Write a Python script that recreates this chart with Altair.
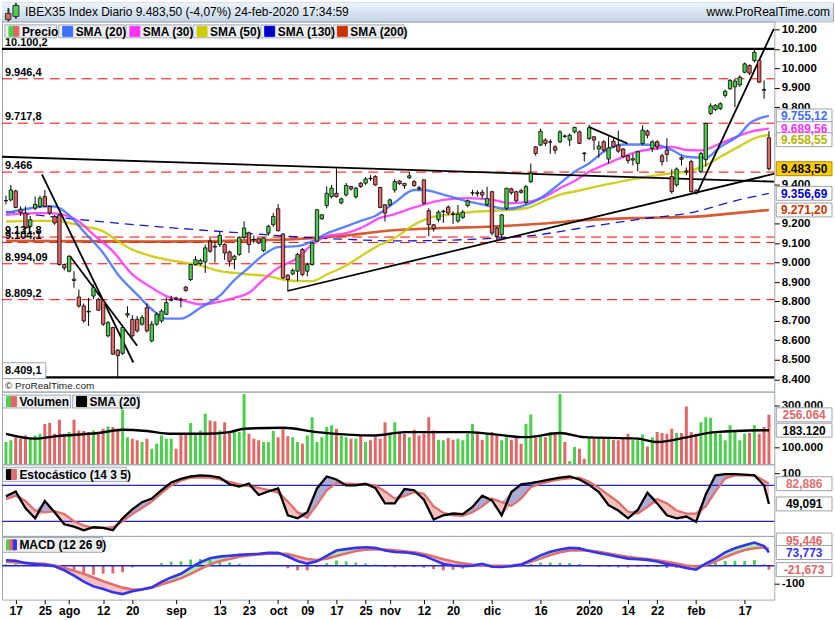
import json
import altair as alt
import pandas as pd

FONT = "Liberation Sans"
GREEN = "#4ccf4c"
RED = "#e26666"
SALMON = "#e07070"

# ---------------- data ----------------
OPEN = [9318, 9323, 9369, 9275, 9255, 9187, 9280, 9290, 9340, 9289,
        9238, 9246, 8990, 8956, 8915, 8823, 8777, 8750, 8828, 8811,
        8803, 8623, 8666, 8550, 8533, 8730, 8708, 8708, 8683, 8768,
        8597, 8683, 8700, 8734, 8806, 8818, 8812, 8874, 8913, 8990,
        8995, 9004, 9110, 9085, 9093, 9093, 9055, 9016, 9042, 9130,
        9153, 9120, 9123, 9062, 9152, 9195, 9277, 9147, 8936, 8942,
        8956, 9067, 8956, 8990, 9110, 9226, 9294, 9340, 9357, 9308,
        9349, 9392, 9339, 9409, 9409, 9434, 9443, 9387, 9298, 9298,
        9374, 9420, 9408, 9437, 9417, 9385, 9426, 9267, 9195, 9221,
        9262, 9286, 9252, 9215, 9233, 9294, 9358, 9360, 9362, 9300,
        9365, 9178, 9144, 9280, 9380, 9365, 9370, 9310, 9417, 9596,
        9605, 9631, 9620, 9596, 9622, 9652, 9631, 9673, 9673, 9564,
        9639, 9648, 9585, 9622, 9533, 9625, 9605, 9585, 9550, 9528,
        9511, 9613, 9677, 9588, 9622, 9550, 9579, 9443, 9400, 9540,
        9472, 9520, 9370, 9468, 9530, 9768, 9788, 9793, 9861, 9895,
        9905, 9915, 9980, 10015, 10040, 10040, 9892, 9643]
HIGH = [9345, 9400, 9375, 9290, 9290, 9240, 9340, 9345, 9374, 9295,
        9245, 9250, 8995, 9038, 8956, 8862, 8790, 8819, 8888, 8819,
        8811, 8700, 8670, 8555, 8670, 8775, 8730, 8725, 8730, 8790,
        8700, 8745, 8760, 8820, 8830, 8825, 8820, 8880, 8995, 9033,
        9020, 9093, 9127, 9110, 9160, 9100, 9062, 9040, 9135, 9212,
        9160, 9140, 9125, 9130, 9195, 9255, 9301, 9152, 8940, 8970,
        9050, 9075, 9000, 9105, 9275, 9250, 9392, 9400, 9485, 9335,
        9410, 9395, 9390, 9415, 9440, 9450, 9450, 9390, 9300, 9330,
        9430, 9425, 9410, 9465, 9425, 9395, 9430, 9280, 9200, 9270,
        9272, 9295, 9265, 9297, 9270, 9325, 9375, 9372, 9375, 9390,
        9370, 9185, 9250, 9385, 9385, 9370, 9380, 9400, 9510, 9600,
        9690, 9640, 9635, 9605, 9682, 9660, 9665, 9700, 9680, 9570,
        9710, 9650, 9625, 9630, 9650, 9640, 9680, 9590, 9555, 9560,
        9575, 9707, 9685, 9630, 9630, 9560, 9640, 9480, 9490, 9550,
        9490, 9530, 9380, 9570, 9720, 9820, 9815, 9825, 9890, 9945,
        9945, 9965, 10030, 10020, 10100, 10045, 9938, 9677]
LOW = [9300, 9315, 9280, 9240, 9170, 9180, 9270, 9280, 9285, 9245,
       9195, 8985, 8960, 8950, 8871, 8768, 8690, 8674, 8811, 8751,
       8675, 8615, 8525, 8410, 8525, 8717, 8615, 8640, 8675, 8640,
       8590, 8675, 8690, 8730, 8800, 8805, 8770, 8850, 8905, 8985,
       8985, 8947, 9050, 9000, 9080, 9015, 8980, 8965, 9035, 9120,
       9050, 9100, 9095, 9055, 9140, 9185, 9160, 8915, 8857, 8935,
       8905, 8930, 8930, 8985, 9105, 9220, 9280, 9330, 9335, 9300,
       9340, 9370, 9330, 9385, 9400, 9420, 9395, 9280, 9212, 9290,
       9360, 9400, 9380, 9430, 9390, 9370, 9300, 9135, 9160, 9210,
       9205, 9245, 9200, 9205, 9225, 9285, 9345, 9340, 9330, 9290,
       9140, 9110, 9130, 9270, 9350, 9310, 9355, 9300, 9410, 9550,
       9600, 9600, 9560, 9560, 9615, 9640, 9600, 9665, 9610, 9520,
       9630, 9580, 9540, 9570, 9510, 9590, 9565, 9540, 9510, 9500,
       9470, 9605, 9640, 9570, 9580, 9500, 9520, 9355, 9390, 9500,
       9450, 9360, 9350, 9460, 9495, 9760, 9780, 9785, 9850, 9890,
       9800, 9905, 9975, 9965, 10030, 9925, 9844, 9475]
CLOSE = [9320, 9374, 9284, 9258, 9178, 9221, 9300, 9332, 9289, 9255,
         9204, 8990, 8973, 9033, 8908, 8777, 8700, 8746, 8871, 8755,
         8683, 8691, 8529, 8521, 8666, 8738, 8623, 8649, 8717, 8649,
         8683, 8734, 8751, 8794, 8811, 8812, 8808, 8857, 8990, 9015,
         9011, 9076, 9059, 9080, 9140, 9050, 9007, 9033, 9130, 9178,
         9093, 9118, 9101, 9127, 9187, 9238, 9164, 8922, 8913, 8960,
         9042, 8939, 8990, 9101, 9272, 9246, 9357, 9383, 9340, 9328,
         9397, 9380, 9383, 9392, 9431, 9432, 9400, 9284, 9255, 9323,
         9417, 9407, 9396, 9447, 9397, 9382, 9306, 9195, 9175, 9260,
         9265, 9255, 9248, 9250, 9260, 9318, 9360, 9355, 9348, 9330,
         9152, 9135, 9246, 9383, 9360, 9318, 9362, 9391, 9460, 9562,
         9677, 9614, 9622, 9579, 9673, 9650, 9656, 9696, 9614, 9560,
         9694, 9631, 9600, 9579, 9591, 9596, 9574, 9545, 9525, 9535,
         9571, 9682, 9656, 9622, 9596, 9520, 9557, 9366, 9482, 9532,
         9466, 9366, 9362, 9562, 9716, 9807, 9810, 9818, 9882, 9938,
         9935, 9955, 10023, 9975, 10083, 9929, 9887, 9483.5]
VOLUME_K = [127, 135, 150, 143, 158, 143, 158, 166, 213, 218,
            166, 233, 166, 174, 233, 182, 179, 174, 182, 174,
            190, 201, 198, 190, 280, 150, 143, 135, 127, 143,
            95, 119, 158, 143, 143, 95, 162, 170, 217, 166,
            182, 261, 229, 226, 182, 221, 174, 185, 174, 355,
            166, 143, 135, 127, 127, 179, 150, 198, 154, 150,
            127, 119, 158, 245, 127, 150, 198, 206, 190, 158,
            150, 143, 143, 158, 127, 135, 150, 143, 221, 162,
            221, 174, 166, 150, 185, 158, 166, 245, 182, 138,
            135, 146, 138, 143, 135, 166, 213, 177, 138, 166,
            174, 158, 135, 150, 138, 150, 119, 213, 258, 150,
            158, 150, 174, 166, 355, 127, 37, 103, 95, 48,
            150, 143, 150, 143, 150, 138, 135, 146, 166, 138,
            135, 163, 106, 150, 174, 170, 166, 190, 170, 170,
            296, 174, 166, 221, 245, 242, 174, 166, 135, 206,
            174, 135, 166, 170, 206, 166, 198, 256.064]
DAYS = list(range(len(CLOSE)))

TICK_DAYS = [2, 8, 13, 20, 26, 35, 44, 50, 56, 62, 68, 74, 79, 86, 92, 100, 110, 120, 128, 134, 142, 152]
TICK_LABELS = ["17", "25", "ago", "12", "20", "sep", "13", "23", "oct", "09", "17", "25",
               "nov", "12", "20", "dic", "16", "2020", "14", "22", "feb", "17"]

SMA20_DAYS = [0, 4, 8, 10, 13, 16, 20, 23, 27, 30, 33, 36, 40, 44, 47, 50, 53, 56, 60, 63,
              66, 70, 73, 76, 80, 84, 86, 90, 95, 98, 100, 103, 106, 110, 114, 117, 120, 123, 127, 130,
              134, 137, 140, 144, 147, 151, 153, 157]
SMA20_VALUES = [9255, 9275, 9290, 9289, 9245, 9160, 9050, 8940, 8835, 8760, 8712, 8712, 8768, 8830, 8910,
                8975, 9040, 9080, 9085, 9110, 9150, 9187, 9215, 9240, 9310, 9374, 9374, 9350, 9315, 9300,
                9289, 9277, 9289, 9332, 9408, 9468, 9511, 9571, 9608, 9608, 9605, 9580, 9545, 9540, 9596,
                9660, 9716, 9755.12]
SMA30_DAYS = [0, 6, 9, 13, 15, 18, 22, 26, 30, 33, 37, 40, 43, 47, 50, 53, 56, 60, 63, 66,
              70, 73, 77, 80, 84, 90, 95, 100, 104, 108, 111, 114, 117, 120, 123, 127, 130, 134, 137, 140,
              143, 147, 150, 153, 157]
SMA30_VALUES = [9246, 9255, 9255, 9238, 9212, 9144, 9058, 8939, 8871, 8828, 8802, 8785, 8794, 8819, 8845,
                8913, 8973, 9024, 9093, 9135, 9152, 9178, 9230, 9250, 9284, 9323, 9332, 9323, 9306, 9315,
                9340, 9383, 9420, 9468, 9502, 9545, 9571, 9588, 9596, 9580, 9578, 9613, 9645, 9672, 9689.56]
SMA50_DAYS = [0, 6, 10, 13, 16, 20, 23, 26, 30, 33, 37, 40, 44, 47, 50, 54, 57, 60, 63, 66,
              70, 73, 77, 80, 84, 87, 91, 97, 104, 107, 111, 114, 117, 123, 130, 137, 140, 144, 147, 151,
              154, 157]
SMA50_VALUES = [9212, 9215, 9215, 9204, 9187, 9161, 9110, 9067, 9033, 9016, 8999, 8985, 8956, 8947, 8939,
                8930, 8913, 8905, 8905, 8939, 8985, 9033, 9093, 9127, 9195, 9229, 9246, 9263, 9272, 9280,
                9320, 9350, 9366, 9400, 9434, 9460, 9468, 9502, 9545, 9600, 9640, 9658.55]
SMA130_DAYS = [0, 10, 20, 30, 40, 50, 60, 70, 80, 90, 100, 110, 114, 120, 130, 142, 150, 157]
SMA130_VALUES = [9263, 9235, 9210, 9188, 9168, 9150, 9132, 9120, 9112, 9115, 9125, 9145, 9160, 9185,
                 9222, 9263, 9318, 9356.69]
SMA200_DAYS = [0, 30, 56, 70, 79, 90, 100, 110, 120, 130, 142, 150, 157]
SMA200_VALUES = [9112, 9108, 9118, 9140, 9165, 9178, 9186, 9200, 9220, 9230, 9237, 9255, 9271.20]

VOLSMA_DAYS = [0, 6, 10, 19, 24, 29, 34, 41, 46, 49, 57, 64, 76, 82, 95, 107, 114, 119, 130, 134, 141, 146, 157]
VOLSMA_VALUES = [166, 143, 154, 170, 185, 179, 166, 166, 174, 190, 195, 174, 158, 174, 174, 150, 170, 150,
                 143, 127, 154, 174, 183.12]

OSC_DAYS = list(range(0, 157, 2)) + [157]
STOCH_K = [62, 70, 42, 25, 54, 35, 15, 11, 5, 10, 9, 5, 25, 40, 52, 58, 72, 85, 91, 95,
           97, 96, 93, 82, 78, 83, 64, 70, 75, 30, 25, 35, 75, 95, 90, 80, 80, 83, 76, 50,
           50, 74, 72, 56, 23, 30, 33, 32, 44, 63, 55, 30, 69, 82, 84, 87, 90, 93, 95, 90,
           81, 69, 47, 38, 25, 39, 68, 50, 30, 25, 28, 19, 65, 97, 99, 99, 98, 97, 80, 49.091]
STOCH_D = [57, 63, 54, 38, 35, 37, 32, 20, 13, 9, 9, 10, 20, 32, 42, 53, 67, 80, 88, 93,
           93, 93, 90, 86, 82, 79, 76, 72, 68, 53, 35, 26, 48, 72, 84, 83, 82, 82, 80, 70,
           58, 62, 69, 66, 45, 34, 30, 29, 35, 45, 58, 52, 46, 58, 77, 83, 87, 90, 92, 93,
           86, 76, 64, 52, 36, 33, 44, 57, 50, 38, 33, 33, 45, 70, 92, 97, 97, 97, 88, 82.886]
MACD_LINE = [31, 28, 16, 10, 5, -3, -25, -55, -88, -115, -130, -148, -158, -142, -132, -120, -90, -65, -45, -10,
             20, 42, 51, 56, 61, 64, 67, 72, 72, 52, 27, 12, 25, 55, 85, 93, 100, 103, 100, 85,
             77, 75, 68, 55, 33, 10, 2, -2, 0, 11, -5, -7, -2, 6, 32, 58, 78, 91, 100, 97,
             83, 71, 62, 50, 40, 36, 33, 24, 10, 0, -12, -22, 12, 40, 75, 98, 115, 130, 110, 73.773]
MACD_SIGNAL = [23, 18, 15, 13, 11, 2, -11, -28, -45, -65, -86, -105, -122, -133, -131, -122, -104, -88, -70, -45,
               -18, 8, 26, 38, 50, 58, 63, 67, 68, 66, 52, 38, 32, 40, 55, 68, 82, 90, 93, 91,
               86, 81, 75, 66, 52, 36, 24, 14, 7, 3, 0, 0, 0, 8, 23, 40, 60, 75, 85, 87,
               85, 78, 68, 59, 50, 43, 38, 31, 22, 12, 2, -4, 5, 23, 48, 70, 88, 98, 102, 95.446]

RED_LEVELS = [9946.4, 9717.8, 9466, 9131.8, 9104.1, 8994.09, 8809.2]
BLACK_LEVELS = [10100.2, 8409.1]
LEVEL_VALUES = [10100.2, 9946.4, 9717.8, 9466, 9131.8, 9104.1, 8994.09, 8809.2, 8409.1]
LEVEL_TEXTS = ["10.100,2", "9.946,4", "9.717,8", "9.466", "9.131,8", "9.104,1", "8.994,09", "8.809,2", "8.409,1"]

TREND_ID = ["a", "a", "b", "b", "c", "c", "d", "d", "e", "e", "f", "f"]
TREND_DAY = [-0.8, 158.1, 7.4, 26.2, 13.2, 27.0, 57.9, 158.5, 119.9, 127.9, 142.2, 158.0]
TREND_PRICE = [9545, 9417, 9454, 8486, 9033, 8572, 8854, 9460, 9699, 9613, 9357, 10203]

PRICE_TICKS = [8400, 8500, 8600, 8700, 8800, 8900, 9000, 9100, 9200, 9400, 9800, 9900, 10000, 10100, 10200]

# ---------------- layout ----------------
W = 776
H_HEAD, H_PRICE, H_VOL, H_STO, H_MACD = 19, 372, 73, 72, 64
XSC = alt.Scale(domain=[-0.8192, 158.1], nice=False, zero=False, padding=0)
PSC = alt.Scale(domain=[8336.1, 10241.9], nice=False, zero=False)
VSC = alt.Scale(domain=[21.3, 366.4], nice=False, zero=False)
SSC = alt.Scale(domain=[-4.5, 115.5], nice=False, zero=False)
MSC = alt.Scale(domain=[-188.9, 166.7], nice=False, zero=False)


def es(v, d):
    s = f"{v:,.{d}f}"
    return s.replace(",", "X").replace(".", ",").replace("X", ".")


def right_axis(values, expr):
    return alt.Axis(orient="right", values=values, title=None, grid=False, domain=False,
                    ticks=True, tickSize=5, tickColor="#000", labelFont=FONT, labelFontSize=11.5,
                    labelFontWeight="bold", labelColor="#000", labelPadding=2, labelOverlap=False,
                    labelExpr=expr)


THOUS = "replace(format(datum.value, ','), ',', '.')"
P_AX = right_axis(PRICE_TICKS, THOUS)
V_AX = right_axis([100, 300], "replace(format(datum.value * 1000, ','), ',', '.')")
S_AX = right_axis([100], "format(datum.value, 'd')")
M_AX = right_axis([-100], "(datum.value < 0 ? '-' : '') + format(abs(datum.value), 'd')")

X_NONE = alt.X("day:Q", scale=XSC, axis=None)
X_BOTTOM = alt.X("day:Q", scale=XSC, axis=alt.Axis(
    values=TICK_DAYS, title=None, grid=False, domain=False, tickSize=4, tickColor="#000",
    labelFont=FONT, labelFontSize=12, labelFontWeight="bold", labelColor="#000", labelPadding=2,
    labelOverlap=False, labelFlush=False,
    labelExpr=f"{json.dumps(TICK_LABELS)}[indexof({json.dumps(TICK_DAYS)}, datum.value)]"))


def Y(field, sc, ax):
    return alt.Y(field, scale=sc, axis=ax)


def px_rects(rows):
    return alt.Chart(pd.DataFrame(rows)).mark_rect(strokeWidth=1).encode(
        x=alt.X("x0:Q", scale=None, axis=None), x2="x1:Q",
        y=alt.Y("y0:Q", scale=None, axis=None), y2="y1:Q",
        fill=alt.Fill("fill:N", scale=None, legend=None),
        stroke=alt.Stroke("stroke:N", scale=None, legend=None))


def px_texts(rows, **kw):
    return alt.Chart(pd.DataFrame(rows)).mark_text(font=FONT, **kw).encode(
        x=alt.X("x:Q", scale=None, axis=None), y=alt.Y("y:Q", scale=None, axis=None),
        text="t:N", color=alt.Color("col:N", scale=None, legend=None))


def legend(items, y0, y1):
    rects, texts = [], []
    yc = (y0 + y1) / 2
    for x0, x1, label, cols in items:
        rects.append(dict(x0=x0, x1=x1, y0=y0, y1=y1, fill="#eceef1", stroke="#a3abb4"))
        n = len(cols)
        for i, c in enumerate(cols):
            rects.append(dict(x0=x0 + 4 + i * 10 / n, x1=x0 + 4 + (i + 1) * 10 / n,
                              y0=yc - 5, y1=yc + 5, fill=c, stroke=c))
        texts.append(dict(x=x0 + 17, y=yc + 0.5, t=label, col="#000"))
    return [px_rects(rects), px_texts(texts, align="left", baseline="middle", fontSize=12, fontWeight="bold")]


BOX_SHAPE = "M-1,-0.25H1V0.25H-1Z"


def value_boxes(vals, texts, tcols, fills, strokes, sc, ax):
    df = pd.DataFrame({"v": vals, "t": texts, "tc": tcols, "f": fills, "s": strokes})
    box = alt.Chart(df).mark_point(shape=BOX_SHAPE, size=56 * 56, filled=True, opacity=1,
                                   strokeWidth=1).encode(
        x=alt.value(806), y=Y("v:Q", sc, ax),
        fill=alt.Fill("f:N", scale=None, legend=None),
        stroke=alt.Stroke("s:N", scale=None, legend=None))
    txt = alt.Chart(df).mark_text(font=FONT, fontSize=12, fontWeight="bold", align="center",
                                  baseline="middle", dy=0.5).encode(
        x=alt.value(806), y=Y("v:Q", sc, ax), text="t:N",
        color=alt.Color("tc:N", scale=None, legend=None))
    return [box, txt]


def sma_line(days, vals, color, width, dash=None, opacity=0.9):
    kw = dict(color=color, strokeWidth=width, interpolate="monotone", clip=True, opacity=opacity)
    if dash:
        kw["strokeDash"] = dash
    return alt.Chart(pd.DataFrame({"day": days, "v": vals})).mark_line(**kw).encode(
        x=X_NONE, y=Y("v:Q", PSC, P_AX))


# ---------------- header ----------------
one = pd.DataFrame({"a": [0]})
grad = alt.Gradient(gradient="linear", x1=0, x2=0, y1=0, y2=1,
                    stops=[alt.GradientStop(color="#eef4fa", offset=0),
                           alt.GradientStop(color="#c4d5e6", offset=1)])
header = alt.layer(
    alt.Chart(one).mark_rect(fill=grad).encode(x=alt.value(0), x2=alt.value(835),
                                               y=alt.value(0), y2=alt.value(H_HEAD)),
    px_rects([dict(x0=6, x1=7, y0=6, y1=19, fill="#333", stroke="#333"),
              dict(x0=3.5, x1=9, y0=11, y1=17, fill=RED, stroke="#333"),
              dict(x0=13.5, x1=14.5, y0=1, y1=16, fill="#333", stroke="#333"),
              dict(x0=11, x1=17, y0=3, y1=14, fill=GREEN, stroke="#333")]),
    px_texts([dict(x=23, y=10, t="IBEX35 Index Diario " + es(CLOSE[-1], 2) + " (-4,07%) 24-feb-2020 17:34:59",
                   col="#000")], align="left", baseline="middle", fontSize=12),
    px_texts([dict(x=832, y=10, t="www.ProRealTime.com", col="#000")], align="right",
             baseline="middle", fontSize=12),
).properties(width=835, height=H_HEAD)

# ---------------- price panel ----------------
cdf = pd.DataFrame({"day": DAYS, "o": OPEN, "h": HIGH, "l": LOW, "c": CLOSE, "vol": VOLUME_K})
up = "datum.c >= datum.o"

red_lines = alt.Chart(pd.DataFrame({"p": RED_LEVELS})).mark_rule(
    color="#ff0000", strokeWidth=1, strokeDash=[10, 6]).encode(
    y=Y("p:Q", PSC, P_AX), x=alt.value(0), x2=alt.value(W))
black_lines = alt.Chart(pd.DataFrame({"p": BLACK_LEVELS})).mark_rule(
    color="#000", strokeWidth=2.2).encode(y=Y("p:Q", PSC, P_AX), x=alt.value(0), x2=alt.value(W))

trend = alt.Chart(pd.DataFrame({"id": TREND_ID, "day": TREND_DAY, "p": TREND_PRICE})).mark_line(
    color="#000", strokeWidth=1.8, clip=True).encode(x=X_NONE, y=Y("p:Q", PSC, P_AX), detail="id:N")

wick = alt.Chart(cdf).mark_rule(color="#000", strokeWidth=1).encode(
    x=X_NONE, y=Y("l:Q", PSC, P_AX), y2="h:Q")
body = alt.Chart(cdf).mark_bar(size=3.4, stroke="#000", strokeWidth=0.8).encode(
    x=X_NONE, y=Y("o:Q", PSC, P_AX), y2="c:Q",
    fill=alt.condition(up, alt.value(GREEN), alt.value(RED)))

lvl_box = px_rects([dict(x0=0.5, x1=44, y0=343, y1=359, fill="#ffffff", stroke="#9aa2aa")])
lvl_txt = alt.Chart(pd.DataFrame({"p": LEVEL_VALUES, "t": LEVEL_TEXTS})).mark_text(
    font=FONT, fontSize=11, fontWeight="bold", align="left", baseline="alphabetic", dy=-3,
    color="#000").encode(x=alt.value(3), y=Y("p:Q", PSC, P_AX), text="t:N")

price_boxes = value_boxes(
    [SMA20_VALUES[-1], SMA30_VALUES[-1], SMA50_VALUES[-1] - 5 * 5.123, CLOSE[-1],
     SMA130_VALUES[-1], SMA200_VALUES[-1]],
    [es(SMA20_VALUES[-1], 2), es(SMA30_VALUES[-1], 2), es(SMA50_VALUES[-1], 2), es(CLOSE[-1], 2),
     es(SMA130_VALUES[-1], 2), es(SMA200_VALUES[-1], 2)],
    ["#3f6fff", "#ff33ff", "#b5b500", "#000000", "#0000cc", "#cc3300"],
    ["#ffffff", "#ffffff", "#ffffff", "#ffcc00", "#ffffff", "#ffffff"],
    ["#9aa2aa", "#9aa2aa", "#9aa2aa", "#b08a00", "#9aa2aa", "#9aa2aa"], PSC, P_AX)

price_legend = legend([(3, 55, "Precio", [GREEN, RED]), (57, 123, "SMA (20)", ["#3f6fff"]),
                       (124.5, 190, "SMA (30)", ["#ff33ff"]), (192, 258, "SMA (50)", ["#cccc00"]),
                       (260, 331, "SMA (130)", ["#0000cc"]), (333, 404, "SMA (200)", ["#cc3300"])],
                      3.5, 16.5)
copy_txt = px_texts([dict(x=3, y=366, t="© ProRealTime.com", col="#222")], align="left",
                    baseline="middle", fontSize=10)

price = alt.layer(
    red_lines, black_lines,
    sma_line(SMA200_DAYS, SMA200_VALUES, "#cc3300", 2.6, opacity=0.8),
    sma_line(SMA130_DAYS, SMA130_VALUES, "#0000cc", 1.3, dash=[9, 6]),
    sma_line(SMA50_DAYS, SMA50_VALUES, "#c8c800", 2.4, opacity=0.85),
    sma_line(SMA30_DAYS, SMA30_VALUES, "#ff33ff", 2.4, opacity=0.85),
    sma_line(SMA20_DAYS, SMA20_VALUES, "#3f6fff", 2.4, opacity=0.85),
    trend, wick, body, lvl_box, lvl_txt, *price_boxes, *price_legend, copy_txt,
).properties(width=W, height=H_PRICE)

# ---------------- volume panel ----------------
vol_bars = alt.Chart(cdf).mark_bar(size=3, clip=True).encode(
    x=X_NONE, y=Y("vol:Q", VSC, V_AX), y2=alt.datum(0),
    color=alt.condition(up, alt.value(GREEN), alt.value(RED)))
vol_sma = alt.Chart(pd.DataFrame({"day": VOLSMA_DAYS, "v": VOLSMA_VALUES})).mark_line(
    color="#000", strokeWidth=2.4, interpolate="monotone", clip=True).encode(
    x=X_NONE, y=Y("v:Q", VSC, V_AX))
vol_boxes = value_boxes([VOLUME_K[-1], VOLSMA_VALUES[-1]],
                        [es(VOLUME_K[-1] * 1000, 0), es(VOLSMA_VALUES[-1] * 1000, 0)],
                        [RED, "#000"], ["#ffffff", "#ffffff"], ["#9aa2aa", "#9aa2aa"], VSC, V_AX)
vol_legend = legend([(0.5, 69, "Volumen", [GREEN, RED]), (71, 138, "SMA (20)", ["#000"])], 3.5, 16.5)
volume = alt.layer(vol_bars, vol_sma, *vol_boxes, *vol_legend).properties(width=W, height=H_VOL)

# ---------------- stochastic panel ----------------
sdf = pd.DataFrame({"day": OSC_DAYS, "k": STOCH_K, "d": STOCH_D})
sto_up = alt.Chart(sdf).transform_calculate(top="max(datum.k, datum.d)").mark_area(
    color="#9c9ccf", opacity=0.85).encode(x=X_NONE, y=Y("top:Q", SSC, S_AX), y2="d:Q")
sto_dn = alt.Chart(sdf).transform_calculate(bot="min(datum.k, datum.d)").mark_area(
    color="#f3b9b9", opacity=0.9).encode(x=X_NONE, y=Y("d:Q", SSC, S_AX), y2="bot:Q")
sto_lines = alt.Chart(pd.DataFrame({"p": [80, 20]})).mark_rule(color="#2323c8", strokeWidth=1.3).encode(
    y=Y("p:Q", SSC, S_AX), x=alt.value(0), x2=alt.value(W))
sto_d = alt.Chart(sdf).mark_line(color=SALMON, strokeWidth=2.3).encode(x=X_NONE, y=Y("d:Q", SSC, S_AX))
sto_k = alt.Chart(sdf).mark_line(color="#000", strokeWidth=2.3).encode(x=X_NONE, y=Y("k:Q", SSC, S_AX))
sto_boxes = value_boxes([STOCH_D[-1], STOCH_K[-1]], [es(STOCH_D[-1], 3), es(STOCH_K[-1], 3)],
                        [SALMON, "#000"], ["#ffffff", "#ffffff"], ["#9aa2aa", "#9aa2aa"], SSC, S_AX)
sto_legend = legend([(0.5, 125, "Estocástico (14 3 5)", ["#000", SALMON])], 3, 17.5)
stoch = alt.layer(sto_up, sto_dn, sto_lines, sto_d, sto_k, *sto_boxes, *sto_legend).properties(
    width=W, height=H_STO)

# ---------------- MACD panel ----------------
mdf = pd.DataFrame({"day": OSC_DAYS, "m": MACD_LINE, "s": MACD_SIGNAL})
m_up = alt.Chart(mdf).transform_calculate(top="max(datum.m, datum.s)").mark_area(
    color="#a6eea6", opacity=0.9).encode(x=X_BOTTOM, y=Y("top:Q", MSC, M_AX), y2="s:Q")
m_dn = alt.Chart(mdf).transform_calculate(bot="min(datum.m, datum.s)").mark_area(
    color="#f3b9b9", opacity=0.9).encode(x=X_BOTTOM, y=Y("s:Q", MSC, M_AX), y2="bot:Q")
m_hist = alt.Chart(mdf).transform_calculate(hist="datum.m - datum.s").mark_bar(size=2.8).encode(
    x=X_BOTTOM, y=Y("hist:Q", MSC, M_AX), y2=alt.datum(0),
    color=alt.condition("datum.hist >= 0", alt.value(GREEN), alt.value(RED)))
m_zero = alt.Chart(pd.DataFrame({"p": [0]})).mark_rule(color="#2323d8", strokeWidth=1.5).encode(
    y=Y("p:Q", MSC, M_AX), x=alt.value(0), x2=alt.value(W))
m_sig = alt.Chart(mdf).mark_line(color=SALMON, strokeWidth=2.6).encode(x=X_BOTTOM, y=Y("s:Q", MSC, M_AX))
m_line = alt.Chart(mdf).mark_line(color="#3434ee", strokeWidth=2.6).encode(x=X_BOTTOM, y=Y("m:Q", MSC, M_AX))
hist_last = MACD_LINE[-1] - MACD_SIGNAL[-1]
m_boxes = value_boxes([MACD_SIGNAL[-1] + 8.5 / 0.1766, MACD_LINE[-1], hist_last],
                      [es(MACD_SIGNAL[-1], 3), es(MACD_LINE[-1], 3), es(hist_last, 3)],
                      [RED, "#3434ee", RED], ["#ffffff"] * 3, ["#9aa2aa"] * 3, MSC, M_AX)
m_legend = legend([(0.5, 101, "MACD (12 26 9)", [GREEN, RED, "#3434ee"])], 1.5, 16.5)
macd = alt.layer(m_up, m_dn, m_hist, m_zero, m_sig, m_line, *m_boxes, *m_legend).properties(
    width=W, height=H_MACD)

chart = alt.vconcat(header, price, volume, stoch, macd, spacing=0, bounds="flush").properties(
    padding={"left": 0, "top": 0, "right": 0, "bottom": 0}, background="#ffffff"
).configure_view(stroke="#9ea7b1", strokeWidth=1)

chart.save("out.html", embed_options={"renderer": "svg", "actions": False})
